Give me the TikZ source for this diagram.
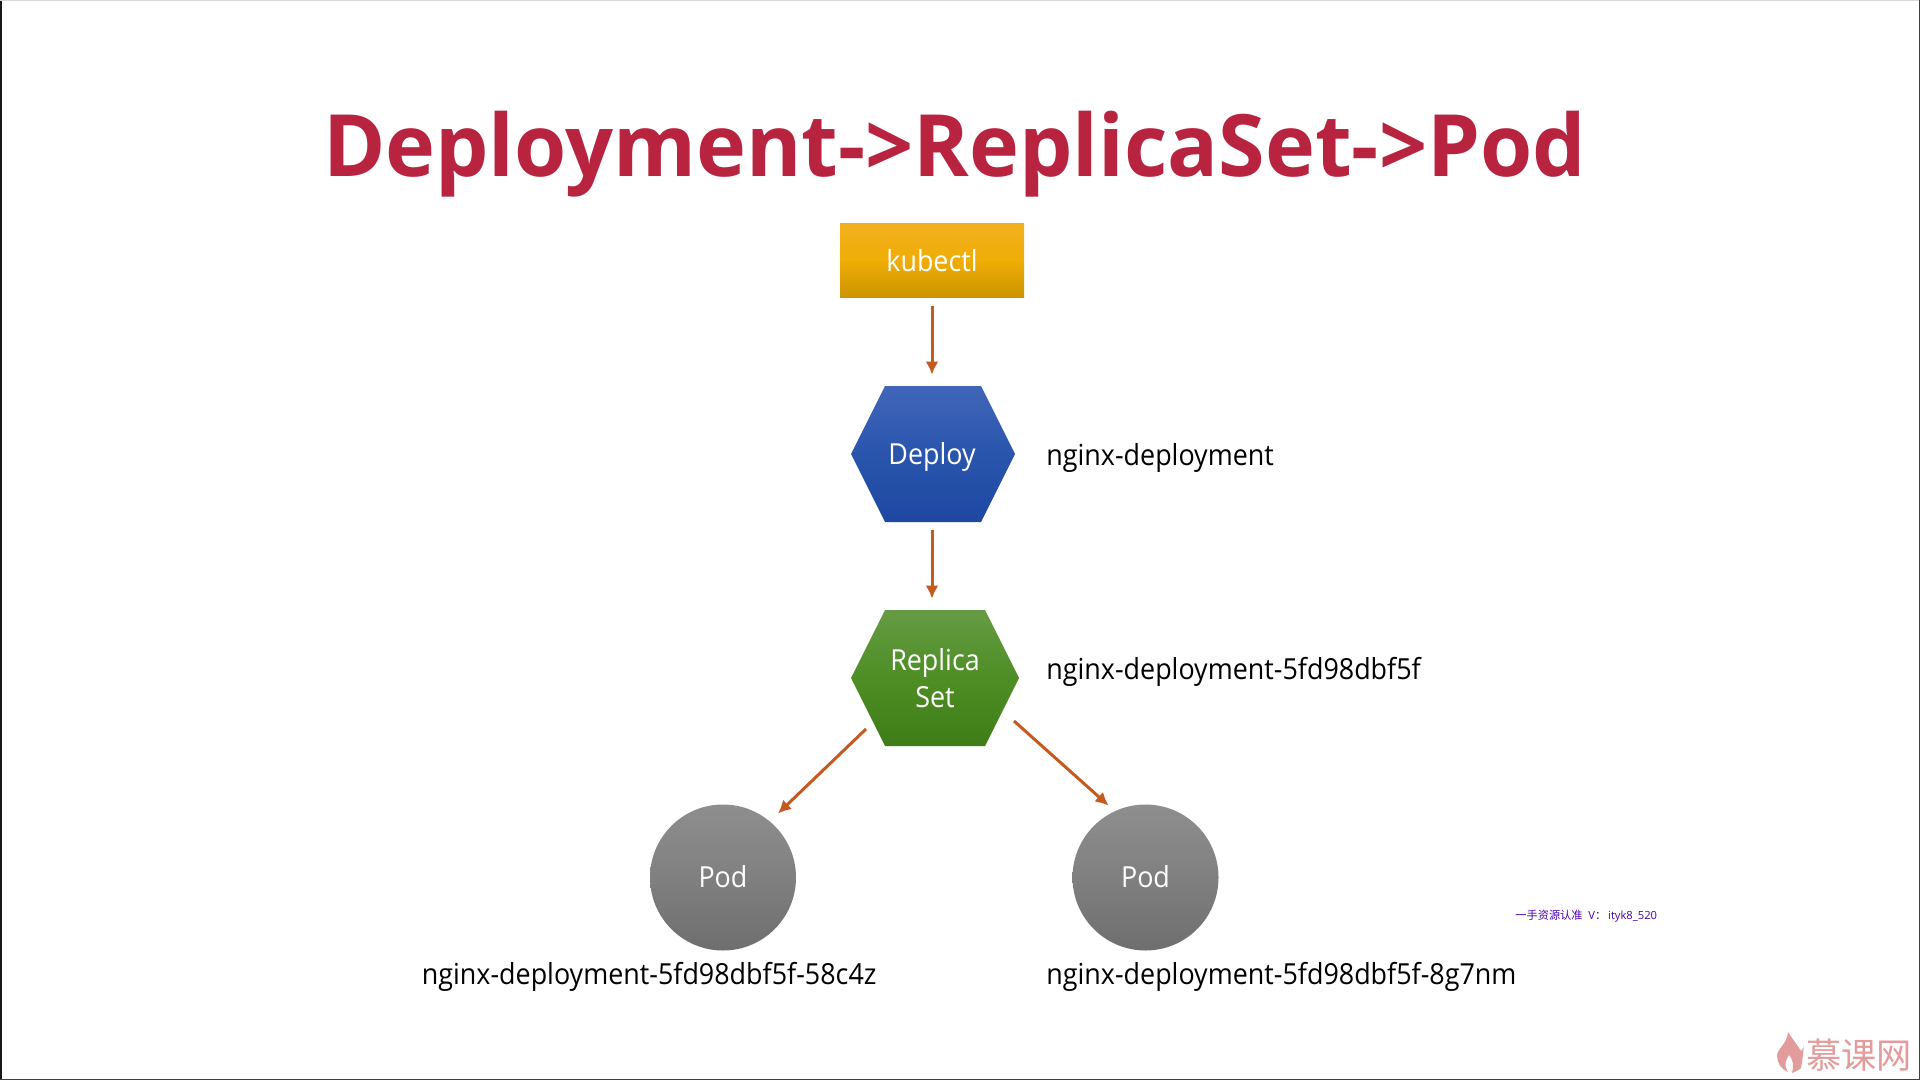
\documentclass[tikz,border=0pt]{standalone}
\usepackage{fontspec}
\setmainfont{Open Sans}
\newfontfamily\narrowfont[FakeStretch=0.927]{Open Sans}
\newfontfamily\titlefont[FakeStretch=0.982]{Open Sans}
\newfontfamily\cjk{Noto Sans CJK SC}
\usetikzlibrary{arrows.meta,calc}
\definecolor{arrowc}{HTML}{C55A21}
\definecolor{titlec}{HTML}{B8243F}
\definecolor{markc}{HTML}{E29C9C}
\definecolor{kubectlTop}{HTML}{F2B020}\definecolor{kubectlMid}{HTML}{EFAD05}\definecolor{kubectlBot}{HTML}{CB9300}
\definecolor{deployTop}{HTML}{4066B8}\definecolor{deployMid}{HTML}{2A55AD}\definecolor{deployBot}{HTML}{1D47A0}
\definecolor{replicaTop}{HTML}{659B45}\definecolor{replicaMid}{HTML}{4E8E24}\definecolor{replicaBot}{HTML}{3F7C18}
\definecolor{podTop}{HTML}{8E8E8E}\definecolor{podMid}{HTML}{808080}\definecolor{podBot}{HTML}{6E6E6E}
\newcommand{\onbase}[1]{\smash{\raisebox{-5.1pt}{#1}}}
\tikzset{
  x=0.5pt,y=-0.5pt,
  conn/.style={draw=arrowc,line width=1.5pt,-{Latex[length=6.5pt,width=6.5pt]}},
  boxtext/.style={text=white,align=center,inner sep=0pt,font=\narrowfont\fontsize{14.5}{18.5}\selectfont},
  label/.style={text=black,inner sep=0pt,anchor=base west,font=\narrowfont\fontsize{14.5}{18}\selectfont},
  kshade/.style={shade,top color=kubectlTop,bottom color=kubectlBot,middle color=kubectlMid},
  dshade/.style={shade,top color=deployTop,bottom color=deployBot,middle color=deployMid},
  rshade/.style={shade,top color=replicaTop,bottom color=replicaBot,middle color=replicaMid},
  pshade/.style={shade,top color=podTop,bottom color=podBot,middle color=podMid},
}
\begin{document}
\begin{tikzpicture}
\useasboundingbox (0,0) rectangle (1920,1080);
\fill[white] (0,0) rectangle (1920,1080);
% screen edges
\fill[black!90] (0,0) rectangle (1.5,1080);
\fill[black!15] (0,0) rectangle (1920,1);
\fill[black!75] (0,1078.5) rectangle (1920,1080);
\fill[black!75] (1919,0) rectangle (1920,1080);
% title
\node[text=titlec,inner sep=0pt,anchor=base,font=\titlefont\fontsize{43}{50}\selectfont\bfseries] (title) at (954.5,177) {Deployment->ReplicaSet->Pod};
% shapes
\path[kshade] (840,224) rectangle (1024,298);
\node[boxtext,minimum width=92pt,minimum height=37pt] (kubectl) at (932,261) {\onbase{kubectl}};
\path[dshade] (885,386) -- (981,386) -- (1015,454) -- (981,522) -- (885,522) -- (851,454) -- cycle;
\node[boxtext,minimum width=82pt,minimum height=68pt] (deploy) at (932,454) {\onbase{Deploy}};
\path[rshade] (885,610) -- (985,610) -- (1019,678) -- (985,746) -- (885,746) -- (851,678) -- cycle;
\node[boxtext,minimum width=84pt,minimum height=68pt] (replica) at (935,678) {Replica\\Set};
\path[pshade] (723,877.5) circle[radius=73];
\node[boxtext,circle,minimum size=73pt] (podA) at (723,877.5) {\onbase{Pod}};
\path[pshade] (1145.5,877.5) circle[radius=73];
\node[boxtext,circle,minimum size=73pt] (podB) at (1145.5,877.5) {\onbase{Pod}};
% connector ends
\coordinate (rsL) at ($(replica)+(-69,51)$);
\coordinate (rsR) at ($(replica)+(79,43)$);
\coordinate (paL) at ($(podA)+(55,-64)$);
\coordinate (pbR) at ($(podB)+(-37,-72)$);
\draw[conn,xshift=0.5pt,shorten <=4pt,shorten >=5.5pt] (kubectl.south -| deploy.north) -- (deploy.north);
\draw[conn,shorten <=4pt,shorten >=5.5pt] (deploy.south) -- (deploy.south |- replica.north);
\draw[conn] (rsL) -- (paL);
\draw[conn] (rsR) -- (pbR);
% labels
\node[label] (l1) at (1046,465) {nginx-deployment};
\node[label] (l2) at (1046,679) {nginx-deployment-5fd98dbf5f};
\node[label] (l3) at (421.5,984) {nginx-deployment-5fd98dbf5f-58c4z};
\node[label] (l4) at (1046,984) {nginx-deployment-5fd98dbf5f-8g7nm};
% small text
\node[inner sep=0pt,anchor=west,text=violet!60!blue,font=\fontsize{5.6}{7}\selectfont] (wm) at (1515,916) {{\cjk 一手资源认准} \ V{\cjk ：}\,ityk8\_520};
% logo
\fill[markc] (1788,1032) .. controls (1796,1044) and (1802,1052) .. (1801,1051) .. controls (1804,1048) and (1804,1046) .. (1804,1044) .. controls (1803,1056) and (1802,1062) .. (1801,1068) .. controls (1799,1070) and (1795,1072) .. (1792,1073) .. controls (1794,1066) and (1793,1059) .. (1789,1055) .. controls (1786,1060) and (1783,1064) .. (1788,1072) .. controls (1782,1070) and (1777,1063) .. (1777,1056) .. controls (1777,1048) and (1787,1045) .. (1788,1032) -- cycle;
\node[inner sep=0pt,anchor=west,text=markc,font=\cjk\fontsize{17.6}{18}\selectfont] (logo) at (1806,1055) {慕课网};
\end{tikzpicture}
\end{document}
